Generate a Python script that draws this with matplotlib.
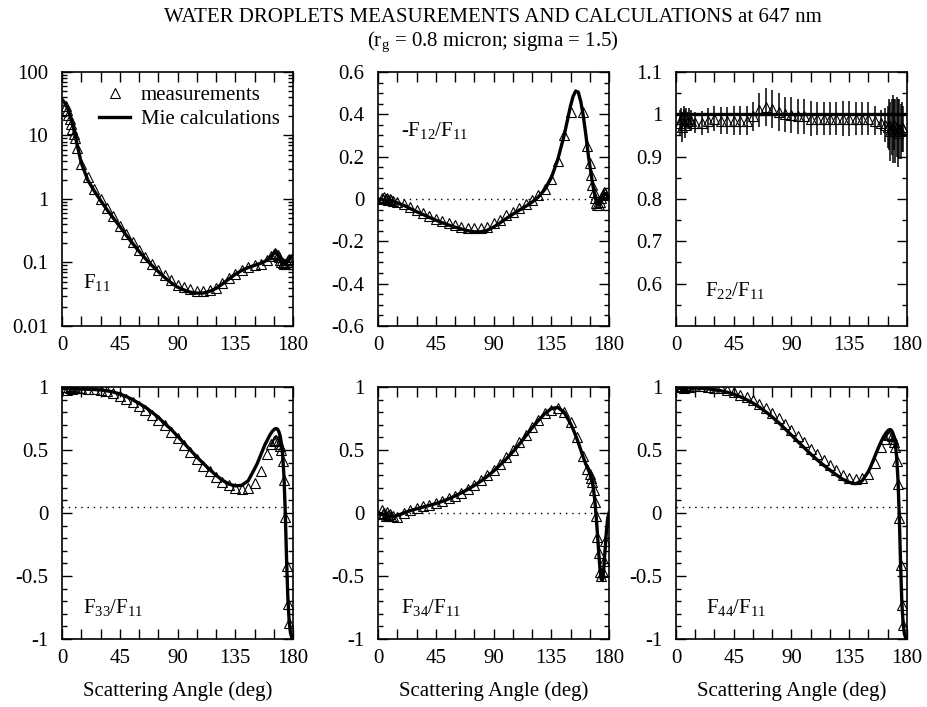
import numpy as np
import matplotlib
matplotlib.use("Agg")
import matplotlib.pyplot as plt
from matplotlib.ticker import MultipleLocator, FixedLocator, LogLocator, NullFormatter

plt.rcParams['font.family'] = ['Liberation Serif', 'DejaVu Serif']
plt.rcParams['mathtext.fontset'] = 'custom'
plt.rcParams['mathtext.rm'] = 'Liberation Serif'
plt.rcParams['mathtext.default'] = 'regular'

# ---------------------------------------------------------------------------
# Data
# ---------------------------------------------------------------------------

# angles (deg) of the Mie curves
mie_angle = [0, 2, 4, 6, 8, 10, 12,
             15, 20, 25, 30, 35, 40, 45, 50, 55, 60, 65, 70, 75, 80, 85, 90,
             95, 100, 105, 110, 115, 120, 125, 130, 135, 140, 145,
             150, 152, 154, 156, 158, 160, 162, 164,
             165, 166, 167, 168, 169, 170, 171, 172, 173, 174, 175, 176, 177,
             178, 179, 180]

# angles (deg) of the measurements
meas_angle = [3, 4, 5, 6, 7, 8, 9, 10, 12,
              15, 20, 25, 30, 35, 40, 45, 50, 55, 60, 65, 70, 75, 80, 85, 90,
              95, 100, 105, 110, 115, 120, 125, 130, 135, 140, 145, 150, 155,
              160, 163,
              165, 166, 167, 168, 169, 170, 171, 172, 173, 174, 175, 176, 177]

# F11
f11_mie = [37, 33, 28, 21, 15.5, 10.5, 6.8,
           3.7, 2.0, 1.35, 0.95, 0.68, 0.5, 0.37, 0.27, 0.2, 0.15, 0.115, 0.09,
           0.072, 0.058, 0.048, 0.041, 0.037, 0.034, 0.033, 0.033, 0.035, 0.039,
           0.046, 0.055, 0.065, 0.075, 0.083,
           0.09, 0.093, 0.096, 0.099, 0.104, 0.11, 0.12, 0.133,
           0.14, 0.145, 0.142, 0.132, 0.12, 0.108, 0.1, 0.095, 0.093, 0.095,
           0.1, 0.106, 0.113, 0.12, 0.126, 0.13]
f11_meas = [29, 25, 21, 18, 15, 12.5, 10.5, 9, 6.3,
            3.6, 2.2, 1.45, 1.0, 0.72, 0.53, 0.38, 0.28, 0.21, 0.155, 0.12, 0.095,
            0.076, 0.063, 0.053, 0.045, 0.041, 0.038, 0.036, 0.036, 0.037, 0.04,
            0.047, 0.056, 0.066, 0.077, 0.085, 0.09, 0.096,
            0.11, 0.125,
            0.135, 0.14, 0.138, 0.13, 0.12, 0.11, 0.102, 0.097, 0.094, 0.096,
            0.1, 0.108, 0.115]

# -F12/F11
f12_mie = [0.0, -0.002, -0.004, -0.006, -0.008, -0.01, -0.013,
           -0.018, -0.03, -0.045, -0.06, -0.073, -0.087, -0.1, -0.112, -0.123,
           -0.133, -0.142, -0.15, -0.155, -0.155, -0.148, -0.133, -0.113, -0.092,
           -0.072, -0.053, -0.035, -0.015, 0.01, 0.045, 0.1, 0.185, 0.3,
           0.44, 0.485, 0.51, 0.505, 0.46, 0.39, 0.3, 0.2,
           0.16, 0.12, 0.08, 0.045, 0.015, -0.01, -0.025, -0.03, -0.025, -0.01,
           0.005, 0.02, 0.025, 0.025, 0.015, 0.0]
f12_meas = [0.005, 0.0, 0.008, -0.002, 0.004, -0.004, 0.0, -0.006, -0.008,
            -0.012, -0.022, -0.037, -0.052, -0.066, -0.08, -0.094, -0.105, -0.115,
            -0.124, -0.131, -0.136, -0.138, -0.137, -0.13, -0.115, -0.097, -0.078,
            -0.06, -0.043, -0.025, -0.005, 0.018, 0.045, 0.096, 0.18, 0.3, 0.41,
            np.nan,
            0.41, 0.25,
            0.17, 0.115, 0.067, 0.035, 0.005, -0.02, -0.03, -0.03, -0.015, 0.005,
            0.02, 0.035, 0.03]

# F22/F11 (Mie value is exactly 1 for spheres)
f22_mie_level = 1.0
f22_meas = [0.98, 0.99, 0.97, 1.0, 0.975, 0.99, 0.985, 0.99, 0.985,
            0.98, 0.98, 0.985, 0.99, 0.985, 0.985, 0.985, 0.985, 0.985, 0.995,
            1.01, 1.018, 1.012, 1.005, 1.0, 0.998, 0.995, 0.995, 0.99, 0.99, 0.99,
            0.99, 0.99, 0.99, 0.99, 0.99, 0.99, 0.99, 0.985,
            0.98, 0.975,
            0.97, 0.975, 0.96, 0.97, 0.965, 0.975, 0.96, 0.97, 0.955, 0.965,
            0.96, 0.97, 0.965]
f22_err = [0.03, 0.025, 0.035, 0.02, 0.03, 0.025, 0.02, 0.025, 0.025,
           0.025, 0.028, 0.03, 0.03, 0.032, 0.032, 0.035, 0.035, 0.035, 0.035,
           0.04, 0.045, 0.045, 0.045, 0.042, 0.042, 0.042, 0.042, 0.042, 0.04,
           0.04, 0.04, 0.04, 0.042, 0.042, 0.04, 0.04, 0.038, 0.035,
           0.03, 0.04,
           0.05, 0.06, 0.07, 0.065, 0.08, 0.06, 0.075, 0.07, 0.08, 0.07,
           0.065, 0.06, 0.055]

# F33/F11
f33_mie = [1.0, 0.995, 0.99, 0.988, 0.987, 0.986, 0.985,
           0.984, 0.982, 0.98, 0.977, 0.97, 0.96, 0.945, 0.925, 0.9, 0.87, 0.84,
           0.8, 0.76, 0.71, 0.665, 0.61, 0.555, 0.5, 0.445, 0.395, 0.345, 0.3,
           0.26, 0.23, 0.215, 0.22, 0.255,
           0.35, 0.39, 0.44, 0.49, 0.54, 0.58, 0.62, 0.65,
           0.66, 0.668, 0.67, 0.665, 0.645, 0.61, 0.55, 0.45, 0.28, -0.01,
           -0.38, -0.68, -0.86, -0.95, -0.99, -1.0]
f33_meas = [1.0, 0.98, 1.02, 0.99, 1.01, 0.985, 1.0, 0.99, 0.99,
            0.99, 0.985, 0.982, 0.975, 0.965, 0.95, 0.93, 0.905, 0.88, 0.85,
            0.815, 0.78, 0.74, 0.695, 0.645, 0.595, 0.54, 0.485, 0.43, 0.375,
            0.33, 0.285, 0.25, 0.22, 0.2, 0.19, 0.2, 0.24, 0.33,
            0.47, 0.55,
            0.57, 0.58, 0.58, 0.57, 0.55, 0.53, 0.5, 0.41, 0.26, -0.03,
            -0.42, -0.72, -0.87]

# F34/F11
f34_mie = [0.0, -0.005, -0.01, -0.018, -0.025, -0.03, -0.03,
           -0.02, 0.0, 0.018, 0.033, 0.047, 0.06, 0.075, 0.092, 0.112, 0.135,
           0.16, 0.188, 0.218, 0.252, 0.29, 0.332, 0.38, 0.43, 0.485, 0.545,
           0.61, 0.675, 0.735, 0.79, 0.828, 0.838, 0.8,
           0.71, 0.665, 0.615, 0.56, 0.5, 0.44, 0.385, 0.34,
           0.315, 0.285, 0.245, 0.18, 0.09, -0.03, -0.17, -0.32, -0.45, -0.53,
           -0.53, -0.43, -0.28, -0.14, -0.04, 0.0]
f34_meas = [0.02, -0.01, 0.0, -0.02, 0.01, -0.015, -0.005, -0.02, -0.025,
            -0.03, 0.0, 0.025, 0.04, 0.052, 0.062, 0.077, 0.095, 0.117, 0.138,
            0.16, 0.19, 0.222, 0.26, 0.3, 0.345, 0.39, 0.445, 0.5, 0.56, 0.62,
            0.685, 0.74, 0.79, 0.82, 0.83, 0.8, 0.72, 0.6,
            0.45, 0.35,
            0.31, 0.28, 0.25, 0.18, 0.09, -0.02, -0.19, -0.32, -0.47, -0.5,
            -0.47, -0.38, -0.22]

# F44/F11
f44_mie = [1.0, 1.0, 0.998, 0.997, 0.996, 0.995, 0.994,
           0.992, 0.99, 0.985, 0.978, 0.97, 0.958, 0.943, 0.923, 0.9, 0.872,
           0.84, 0.803, 0.762, 0.717, 0.668, 0.618, 0.567, 0.517, 0.468, 0.422,
           0.38, 0.34, 0.302, 0.268, 0.243, 0.232, 0.255,
           0.33, 0.375, 0.425, 0.475, 0.525, 0.57, 0.61, 0.64,
           0.652, 0.66, 0.662, 0.655, 0.635, 0.6, 0.54, 0.44, 0.26, -0.02,
           -0.4, -0.71, -0.88, -0.96, -0.99, -1.0]
f44_meas = [1.02, 1.0, 1.01, 0.99, 1.015, 1.0, 1.01, 1.0, 1.005,
            1.01, 1.005, 1.0, 0.995, 0.99, 0.975, 0.958, 0.94, 0.918, 0.893,
            0.865, 0.833, 0.795, 0.755, 0.71, 0.66, 0.61, 0.56, 0.51, 0.465,
            0.42, 0.38, 0.34, 0.305, 0.28, 0.27, 0.28, 0.31, 0.4,
            0.52, 0.59,
            0.62, 0.625, 0.625, 0.61, 0.59, 0.56, 0.52, 0.41, 0.23, -0.04,
            -0.41, -0.73, -0.89]

panel_labels = ['F$_{11}$', '-F$_{12}$/F$_{11}$', 'F$_{22}$/F$_{11}$',
                'F$_{33}$/F$_{11}$', 'F$_{34}$/F$_{11}$', 'F$_{44}$/F$_{11}$']
x_ticks = [0, 45, 90, 135, 180]

# ---------------------------------------------------------------------------
# Figure
# ---------------------------------------------------------------------------
fig = plt.figure(figsize=(9.27, 7.07), dpi=100)

lefts = [0.0669, 0.4078, 0.7292]
top_y, bot_y = 0.5389, 0.0962
w, h_top, h_bot = 0.2492, 0.3593, 0.3564

axes = []
for row in range(2):
    for col in range(3):
        if row == 0:
            ax = fig.add_axes([lefts[col], top_y, w, h_top])
        else:
            ax = fig.add_axes([lefts[col], bot_y, w, h_bot])
        axes.append(ax)

fs = 15
line_kw = dict(color='black', lw=2.4, zorder=2)
mark_kw = dict(ls='none', marker='^', ms=6.5, mfc='none', mec='black',
               mew=0.8, zorder=3)
dot_kw = dict(color='black', lw=1.0, ls=(0, (1, 3.5)), zorder=1)

# F11 (log scale)
ax = axes[0]
ax.plot(meas_angle, f11_meas, label='measurements', **mark_kw)
ax.plot(mie_angle, f11_mie, label='Mie calculations', **line_kw)
ax.set_yscale('log')
ax.set_ylim(0.01, 100)
ax.yaxis.set_major_locator(FixedLocator([0.01, 0.1, 1, 10, 100]))
ax.set_yticklabels(['0.01', '0.1', '1', '10', '100'])
ax.yaxis.set_minor_locator(LogLocator(base=10, subs=np.arange(2, 10)))
ax.yaxis.set_minor_formatter(NullFormatter())
leg = ax.legend(loc='upper right', frameon=False, fontsize=fs,
                handlelength=1.5, handletextpad=0.5, borderaxespad=0.25,
                labelspacing=0.2)

# -F12/F11
ax = axes[1]
ax.plot(mie_angle, [0.0] * len(mie_angle), **dot_kw)
ax.plot(mie_angle, f12_mie, **line_kw)
ax.plot(meas_angle, f12_meas, **mark_kw)
ax.set_ylim(-0.6, 0.6)
ax.yaxis.set_major_locator(FixedLocator([-0.6, -0.4, -0.2, 0, 0.2, 0.4, 0.6]))
ax.set_yticklabels(['-0.6', '-0.4', '-0.2', '0', '0.2', '0.4', '0.6'])
ax.yaxis.set_minor_locator(MultipleLocator(0.05))

# F22/F11
ax = axes[2]
ax.axhline(f22_mie_level, **line_kw)
ax.errorbar(meas_angle, f22_meas, yerr=f22_err, fmt='none', ecolor='black',
            elinewidth=1.1, capsize=0, zorder=2.5)
ax.plot(meas_angle, f22_meas, **mark_kw)
ax.set_ylim(0.5, 1.1)
ax.yaxis.set_major_locator(FixedLocator([0.6, 0.7, 0.8, 0.9, 1.0, 1.1]))
ax.set_yticklabels(['0.6', '0.7', '0.8', '0.9', '1', '1.1'])
ax.yaxis.set_minor_locator(FixedLocator([0.55, 0.65, 0.75, 0.85, 0.95, 1.05]))

# lower row
lower = [(f33_mie, f33_meas, 0.05), (f34_mie, f34_meas, 0.0),
         (f44_mie, f44_meas, 0.05)]
for ax, (mie, meas, ref) in zip(axes[3:], lower):
    ax.plot(mie_angle, [ref] * len(mie_angle), **dot_kw)
    ax.plot(mie_angle, mie, **line_kw)
    ax.plot(meas_angle, meas, **mark_kw)
    ax.set_ylim(-1, 1)
    ax.yaxis.set_major_locator(FixedLocator([-1, -0.5, 0, 0.5, 1]))
    ax.set_yticklabels(['-1', '-0.5', '0', '0.5', '1'])
    ax.yaxis.set_minor_locator(MultipleLocator(0.1))
    ax.set_xlabel('Scattering Angle (deg)', fontsize=fs, labelpad=10)

# common axis styling
label_pos = [(0.09, 0.17), (0.10, 0.77), (0.125, 0.14),
             (0.09, 0.125), (0.10, 0.125), (0.13, 0.125)]
for ax, lab, pos in zip(axes, panel_labels, label_pos):
    ax.set_xlim(0, 180)
    ax.xaxis.set_major_locator(FixedLocator(x_ticks))
    ax.xaxis.set_minor_locator(MultipleLocator(15))
    ax.tick_params(which='both', direction='in', top=True, right=True,
                   labelsize=fs)
    ax.tick_params(axis='x', which='both', length=7, width=1.0, pad=7)
    ax.tick_params(axis='y', which='major', length=7, width=1.0, pad=10)
    ax.tick_params(axis='y', which='minor', length=3.5, width=1.0)
    for s in ax.spines.values():
        s.set_linewidth(1.2)
    ax.text(pos[0], pos[1], lab, transform=ax.transAxes, fontsize=fs,
            ha='left', va='center')

fig.text(0.532, 0.975, 'WATER DROPLETS MEASUREMENTS AND CALCULATIONS at 647 nm',
         ha='center', va='center', fontsize=15)
fig.text(0.532, 0.941, '(r$_{g}$ = 0.8 micron; sigma = 1.5)',
         ha='center', va='center', fontsize=15)

fig.savefig('out.png', dpi=100)
